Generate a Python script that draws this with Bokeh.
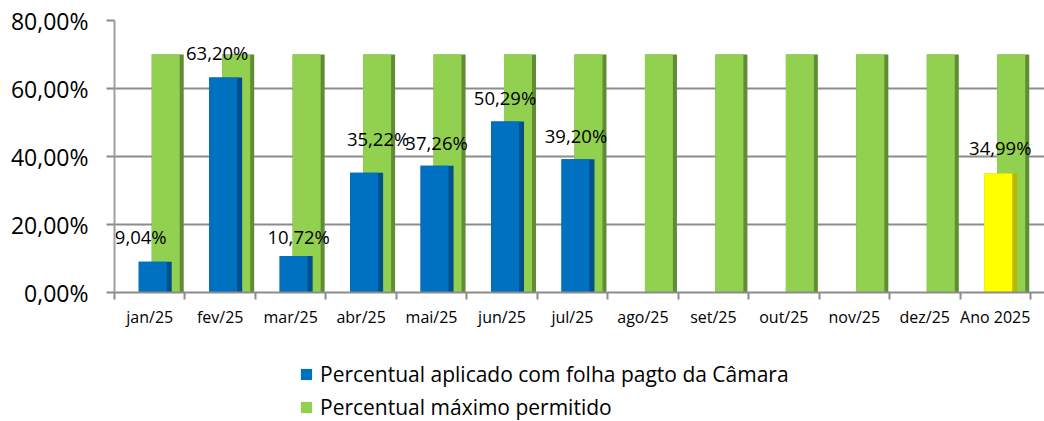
from bokeh.plotting import figure
from bokeh.layouts import column
from bokeh.models import ColumnDataSource, FixedTicker, Legend, LegendItem
from bokeh.core.properties import value
from bokeh.embed import file_html
from bokeh.resources import INLINE

# ---------------- data ----------------
categories = ["jan/25", "fev/25", "mar/25", "abr/25", "mai/25", "jun/25", "jul/25",
              "ago/25", "set/25", "out/25", "nov/25", "dez/25", "Ano 2025"]
applied_pct = [9.04, 63.20, 10.72, 35.22, 37.26, 50.29, 39.20,
               None, None, None, None, None, 34.99]
max_pct = [70.00, 70.00, 70.00, 70.00, 70.00, 70.00, 70.00,
           70.00, 70.00, 70.00, 70.00, 70.00, 70.00]
y_ticks = [0, 20, 40, 60, 80]
y_tick_labels = ["0,00%", "20,00%", "40,00%", "60,00%", "80,00%"]
series_names = ["Percentual aplicado com folha pagto da Câmara", "Percentual máximo permitido"]

# label nudges (screen px) for the data labels, in order of the non-empty applied values
label_dx = [-9, -3, 8, 17, 5, 3, 3.5, 5]
label_dy = [25, 25, 20, 34, 23, 24, 24, 26]

# ---------------- layout ----------------
W = 1044
H_MAIN, H_LEG = 340, 81
LEFT, RIGHT, TOP, BOTTOM = 114, 0, 20, 48
frame_w = W - LEFT - RIGHT
unit_px = 70.46
x_end = -0.5 + frame_w / unit_px

FONT = "Open Sans"
BLUE, BLUE_SIDE = "#0070C0", "#00508C"
GREEN, GREEN_SIDE = "#92D050", "#608D34"
YELLOW, YELLOW_SIDE = "#FFFF00", "#B8B800"
GRID = "#8C8C8C"

p = figure(width=W, height=H_MAIN, x_range=(-0.5, x_end), y_range=(0, 80),
           output_backend="svg", toolbar_location=None,
           min_border_left=LEFT, min_border_right=RIGHT,
           min_border_top=TOP, min_border_bottom=BOTTOM)
p.outline_line_color = None
p.background_fill_color = "white"
p.border_fill_color = "white"


def px(v):
    return v / unit_px


n = len(categories)
xs = list(range(n))

# green (back) series
g_left, g_face, g_right = px(2), px(30), px(34)
p.vbar(x=[i + (g_left + g_right) / 2 for i in xs], top=max_pct, bottom=0,
       width=g_right - g_left, fill_color=GREEN_SIDE, line_color=None)
p.vbar(x=[i + (g_left + g_face) / 2 for i in xs], top=max_pct, bottom=0,
       width=g_face - g_left, fill_color=GREEN, line_color=None)

# blue / yellow (front) series
b_left, b_face, b_right = px(-11), px(17), px(22)
idx = [i for i, v in enumerate(applied_pct) if v is not None]
month_idx = [i for i in idx if i < n - 1]
year_idx = [i for i in idx if i == n - 1]


def bars(ids, face_col, side_col):
    tops = [applied_pct[i] for i in ids]
    p.vbar(x=[i + (b_left + b_right) / 2 for i in ids], top=tops, bottom=0,
           width=b_right - b_left, fill_color=side_col, line_color=None)
    p.vbar(x=[i + (b_left + b_face) / 2 for i in ids], top=tops, bottom=0,
           width=b_face - b_left, fill_color=face_col, line_color=None)


bars(month_idx, BLUE, BLUE_SIDE)
bars(year_idx, YELLOW, YELLOW_SIDE)

# data labels
lab_src = ColumnDataSource(dict(
    x=idx,
    y=[applied_pct[i] for i in idx],
    t=[f"{applied_pct[i]:.2f}%".replace(".", ",") for i in idx],
    dx=label_dx,
    dy=[-d for d in label_dy],
))
p.text(x="x", y="y", text="t", x_offset="dx", y_offset="dy", source=lab_src,
       text_align="center", text_baseline="middle", text_color="#000000",
       text_font=value(FONT), text_font_size="18.5px")

# ---------------- axes ----------------
p.xgrid.visible = False
p.ygrid.ticker = FixedTicker(ticks=y_ticks)
p.ygrid.grid_line_color = GRID
p.ygrid.grid_line_width = 2

ya = p.yaxis[0]
ya.ticker = FixedTicker(ticks=y_ticks)
ya.major_label_overrides = {t: l for t, l in zip(y_ticks, y_tick_labels)}
ya.axis_line_color = "#A0A0A0"
ya.axis_line_width = 2
ya.major_tick_line_color = GRID
ya.major_tick_line_width = 2
ya.major_tick_out = 8
ya.major_tick_in = 0
ya.minor_tick_line_color = None
ya.major_label_standoff = 18
ya.major_label_text_font = FONT
ya.major_label_text_font_size = "23px"
ya.major_label_text_color = "#000000"

xa = p.xaxis[0]
xa.ticker = FixedTicker(ticks=xs, minor_ticks=[i - 0.5 for i in range(n + 1)])
xa.major_label_overrides = {i: c for i, c in enumerate(categories)}
xa.axis_line_color = GRID
xa.axis_line_width = 2
xa.major_tick_out = 0
xa.major_tick_in = 0
xa.major_tick_line_color = None
xa.minor_tick_out = 7
xa.minor_tick_in = 0
xa.minor_tick_line_color = GRID
xa.minor_tick_line_width = 2
xa.major_label_standoff = 6
xa.major_label_text_font = FONT
xa.major_label_text_font_size = "16px"
xa.major_label_text_color = "#000000"

# ---------------- legend (separate strip under the chart) ----------------
lg_fig = figure(width=W, height=H_LEG, x_range=(0, 1), y_range=(0, 1),
                output_backend="svg", toolbar_location=None,
                min_border=0, outline_line_color=None)
lg_fig.axis.visible = False
lg_fig.grid.visible = False
lg_fig.background_fill_color = "white"
lg_fig.border_fill_color = "white"
# zero-height proxy bars, only used for the legend swatches
r_blue = lg_fig.vbar(x=[0.5], top=[0.0], bottom=[0.0], width=0.01,
                     fill_color=BLUE, line_color=None)
r_green = lg_fig.vbar(x=[0.5], top=[0.0], bottom=[0.0], width=0.01,
                      fill_color=GREEN, line_color=None)

legend = Legend(items=[LegendItem(label=series_names[0], renderers=[r_blue]),
                       LegendItem(label=series_names[1], renderers=[r_green])],
                location=(185, 0), orientation="vertical",
                padding=0, margin=0, spacing=5,
                glyph_width=14, glyph_height=14, label_standoff=7,
                label_text_font=FONT, label_text_font_size="21px",
                label_text_color="#000000", label_text_baseline="middle",
                border_line_color=None, background_fill_alpha=0)
lg_fig.add_layout(legend, "center")

layout = column(p, lg_fig, spacing=0)
open("out.html", "w").write(file_html(layout, INLINE))
